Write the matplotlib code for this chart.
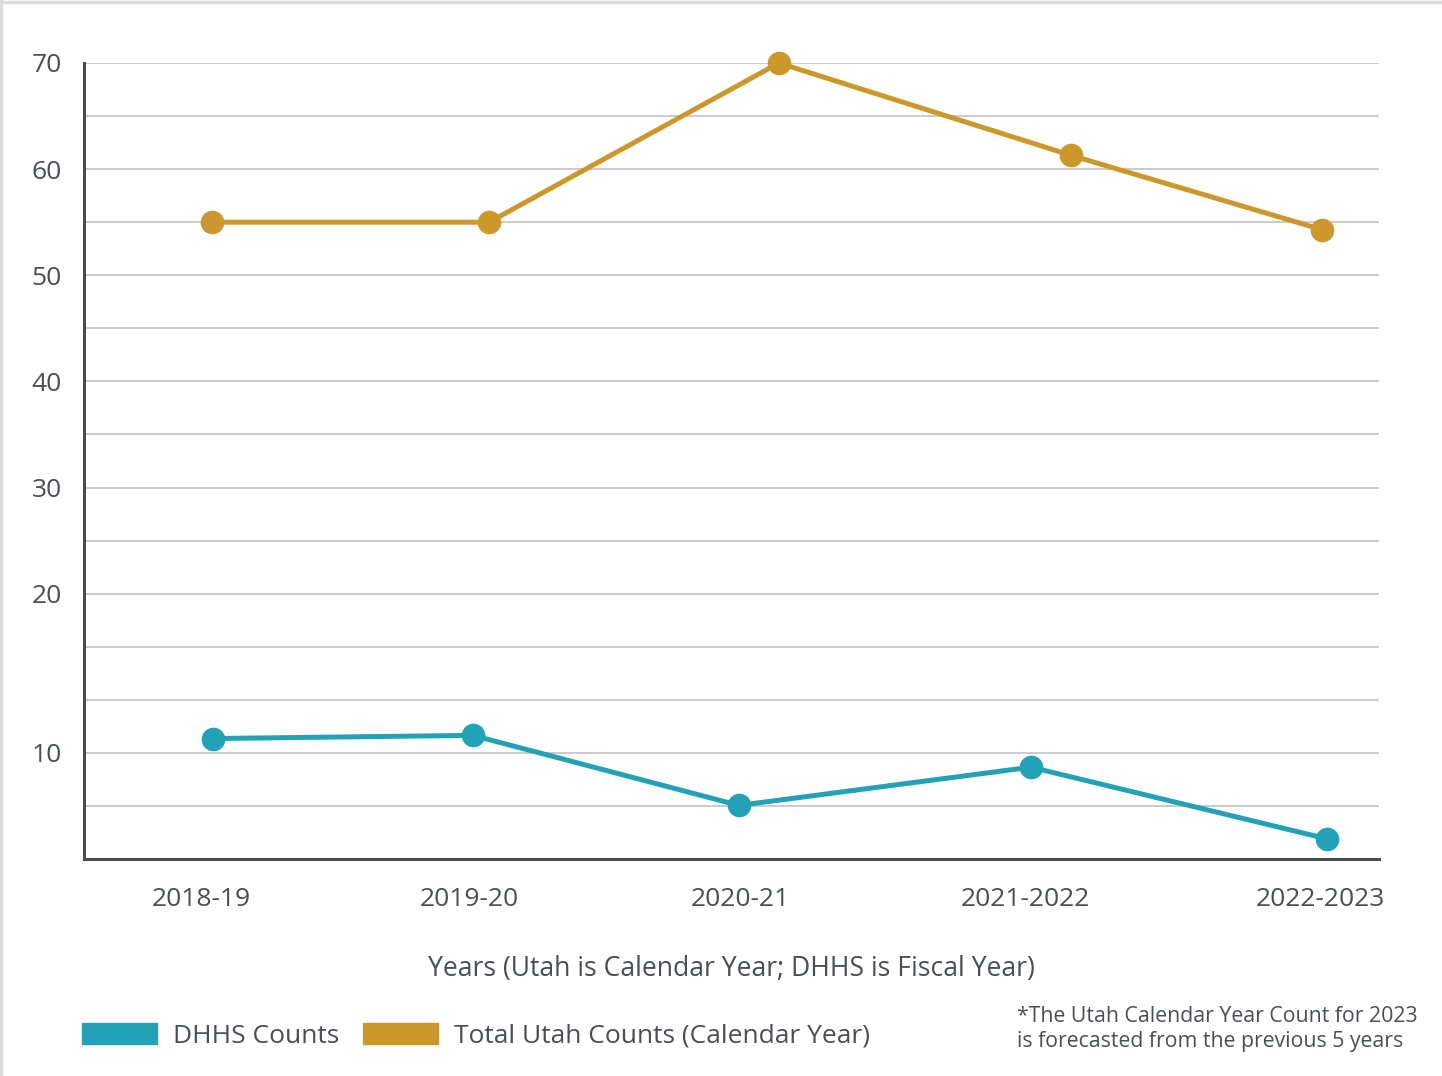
import matplotlib
matplotlib.use("Agg")
import matplotlib.pyplot as plt
from matplotlib.lines import Line2D
from matplotlib.patches import Patch
import numpy as np

# categories and data (x positions in category units, as drawn in the original)
years = ["2018-19", "2019-20", "2020-21", "2021-2022", "2022-2023"]
year_pos = [0.0, 0.958, 1.927, 2.946, 4.0]

utah_x = [0.039, 1.030, 2.066, 3.110, 4.007]
utah_counts = [55, 55, 70, 61.3, 54.3]

dhhs_x = [0.043, 0.972, 1.923, 2.967, 4.025]
dhhs_counts = [10.9, 11.1, 6.7, 9.1, 4.6]

y_labels = [10, 20, 30, 40, 50, 60, 70]

TEAL = "#22a1b7"
GOLD = "#cc982c"
TXT = "#4a4f55"

# the original y axis is not linear: 10..20 spans 3 gridlines, above 20 it's 5 per gridline
_v = [-100, 0, 10, 20, 70, 200]
_g = [-31, -1, 2, 5, 15, 41]


def fwd(v):
    return np.interp(v, _v, _g)


def inv(g):
    return np.interp(g, _g, _v)


plt.rcParams["font.family"] = ["Open Sans", "DejaVu Sans"]

fig = plt.figure(figsize=(14.42, 10.76), dpi=100)
ax = fig.add_axes([84 / 1442, 1 - 859 / 1076, (1379 - 84) / 1442, (859 - 63) / 1076])
ax.set_yscale("function", functions=(fwd, inv))

grid_vals = inv(np.arange(16))
ax.set_ylim(grid_vals[0], grid_vals[-1])
ax.set_xlim(-0.418, 4.211)

ax.set_yticks(grid_vals)
ax.set_yticklabels([str(int(round(v))) if any(abs(v - l) < 0.01 for l in y_labels) else ""
                    for v in grid_vals])
ax.set_xticks(year_pos)
ax.set_xticklabels(years)
ax.yaxis.set_minor_locator(matplotlib.ticker.NullLocator())

ax.grid(axis="y", color="#bdbdbd", linewidth=1.1)
ax.set_axisbelow(True)
ax.tick_params(axis="both", length=0, labelsize=19, colors=TXT)
ax.tick_params(axis="y", pad=16)
ax.tick_params(axis="x", pad=20)

for s in ["top", "right"]:
    ax.spines[s].set_visible(False)
for s in ["left", "bottom"]:
    ax.spines[s].set_color("#4a4d50")
    ax.spines[s].set_linewidth(2.2)

ax.plot(utah_x, utah_counts, color=GOLD, lw=3.6, marker="o", ms=16, clip_on=False, zorder=3)
ax.plot(dhhs_x, dhhs_counts, color=TEAL, lw=3.6, marker="o", ms=16, clip_on=False, zorder=3)

fig.text(731 / 1442, 1 - 969 / 1076, "Years (Utah is Calendar Year; DHHS is Fiscal Year)",
         ha="center", va="center", fontsize=19.1, color=TXT)

handles = [Patch(color=TEAL, label="DHHS Counts"),
           Patch(color=GOLD, label="Total Utah Counts (Calendar Year)")]
leg = fig.legend(handles=handles, loc="center left", bbox_to_anchor=(82 / 1442, 1 - 1036 / 1076),
                 ncol=2, frameon=False, fontsize=19, handlelength=2.85, handleheight=0.85,
                 handletextpad=0.6, columnspacing=0.9, borderpad=0, borderaxespad=0)
for t in leg.get_texts():
    t.set_color(TXT)

fig.text(1017 / 1442, 1 - 1029 / 1076,
         "*The Utah Calendar Year Count for 2023\nis forecasted from the previous 5 years",
         ha="left", va="center", fontsize=15.3, color=TXT, linespacing=1.3)

# light frame on top and left edge
fig.add_artist(Line2D([0, 1], [0.9985, 0.9985], transform=fig.transFigure, color="#dcdedd", lw=2.5))
fig.add_artist(Line2D([0.001, 0.001], [0, 1], transform=fig.transFigure, color="#dcdedd", lw=2.5))

fig.savefig("out.png", dpi=100, facecolor="white")
